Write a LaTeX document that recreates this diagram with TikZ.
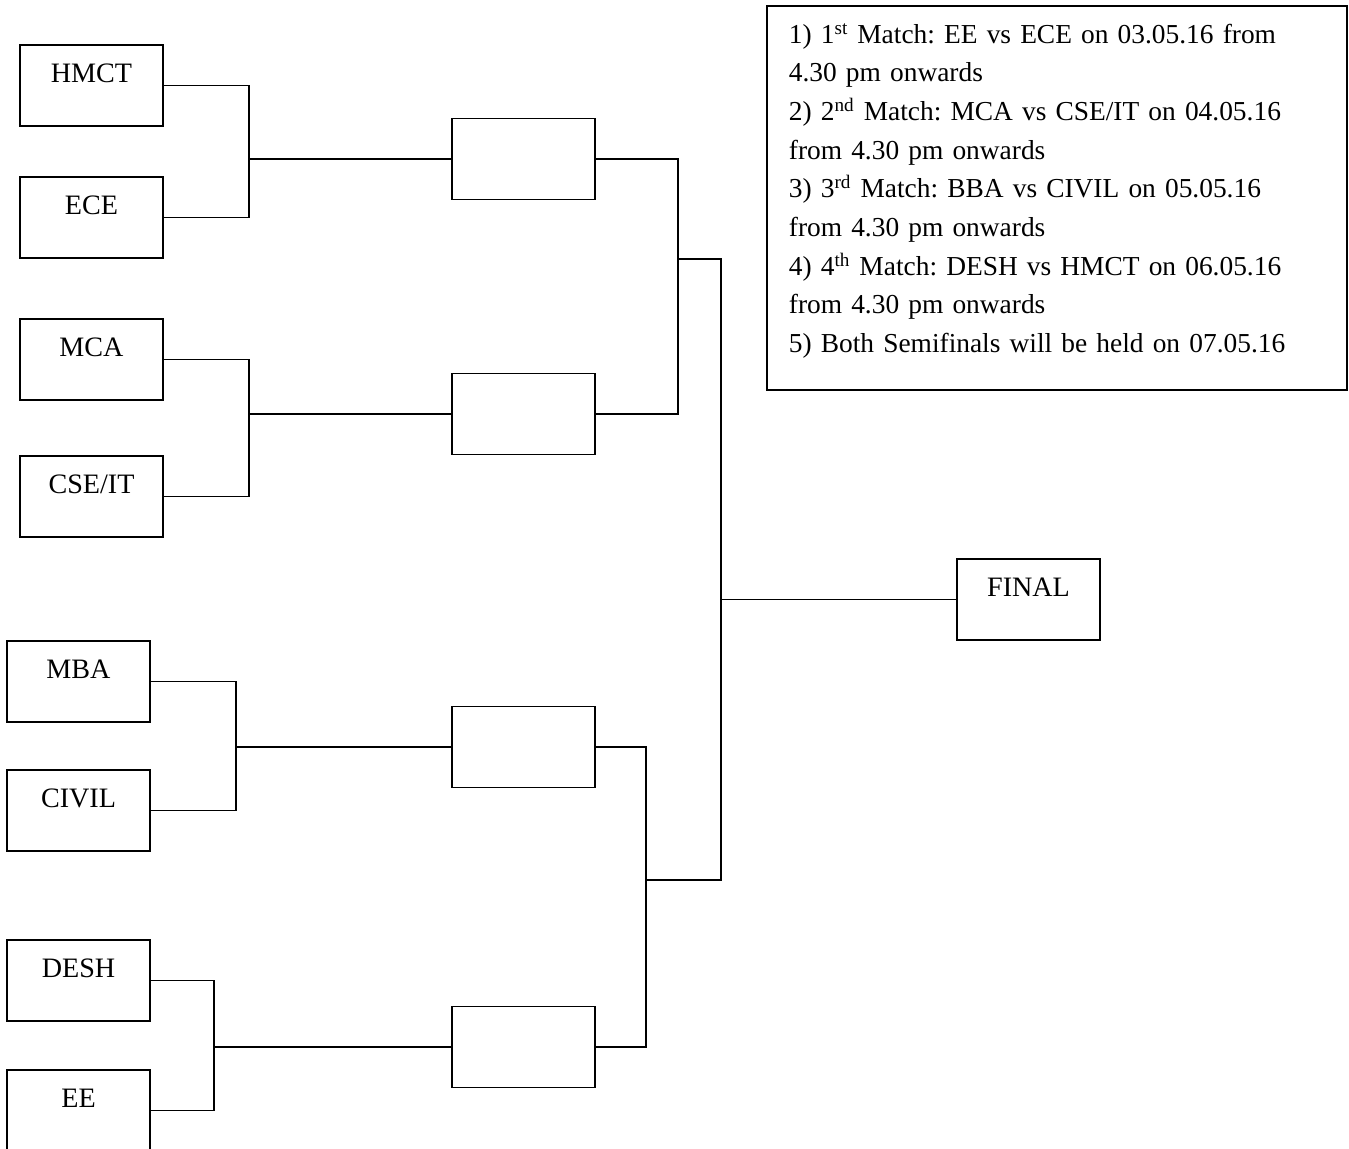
\documentclass[tikz,border=0pt]{standalone}
\usepackage{fontspec}
\setmainfont{Liberation Serif}
\usetikzlibrary{positioning}

\begin{document}
\begin{tikzpicture}[
  x=0.02cm, y=-0.02cm,
  line width=1pt,
  slot/.style={
    rectangle, draw=black, line width=1pt,
    minimum width=2.86cm, minimum height=1.62cm,
    inner sep=0pt
  },
  team/.style={
    slot,
    font=\fontsize{16}{19}\selectfont,
    text height=11pt, text depth=14.4pt
  },
  notebox/.style={
    rectangle, draw=black, line width=1pt,
    anchor=north west,
    text width=10.72cm,
    inner xsep=0.44cm, inner ysep=0.3cm,
    minimum height=7.68cm,
    align=left,
    font=\fontsize{15.6}{22}\selectfont\frenchspacing
  },
  link/.style={draw=black, line width=1pt}
]

% Fix page to the reference size
\useasboundingbox (0,0) rectangle (1349,1149);

% First round (teams)
\node[team] (hmct)  at (91.5, 85.5)  {HMCT};
\node[team] (ece)   at (91.5, 217.5) {ECE};
\node[team] (mca)   at (91.5, 359.5) {MCA};
\node[team] (cseit) at (91.5, 496.5) {CSE/IT};
\node[team] (mba)   at (78.5, 681.5) {MBA};
\node[team] (civil) at (78.5, 810.5) {CIVIL};
\node[team] (desh)  at (78.5, 980.5) {DESH};
\node[team] (ee)    at (78.5, 1110.5) {EE};

% Winners of each match (empty slots)
\node[slot] (qf1) at (523.5, 159) {};
\node[slot] (qf2) at (523.5, 414) {};
\node[slot] (qf3) at (523.5, 747) {};
\node[slot] (qf4) at (523.5, 1047) {};

% Final
\node[team] (final) at (1028.5, 599.5) {FINAL};

% Fixture notes
\node[notebox] (notes) at (766, 5) {%
  1) 1\textsuperscript{st} Match: EE vs ECE on 03.05.16 from\\
  4.30 pm onwards\\
  2) 2\textsuperscript{nd} Match: MCA vs CSE/IT on 04.05.16\\
  from 4.30 pm onwards\\
  3) 3\textsuperscript{rd} Match: BBA vs CIVIL on 05.05.16\\
  from 4.30 pm onwards\\
  4) 4\textsuperscript{th} Match: DESH vs HMCT on 06.05.16\\
  from 4.30 pm onwards\\
  5) Both Semifinals will be held on 07.05.16\par
  \vspace{8pt}\nointerlineskip\hbox{}
};

% Junction points of the bracket
\coordinate (j1) at (249, 159);
\coordinate (j2) at (249, 414);
\coordinate (j3) at (236, 747);
\coordinate (j4) at (214, 1047);
\coordinate (s1) at (678, 259);
\coordinate (s2) at (646, 880);
\coordinate (k)  at (721, 599.5);

% Matches -> winner slots
\draw[link] (hmct.east) -| (j1) |- (ece.east);
\draw[link] (j1) -- (qf1.west);
\draw[link] (mca.east) -| (j2) |- (cseit.east);
\draw[link] (j2) -- (qf2.west);
\draw[link] (mba.east) -| (j3) |- (civil.east);
\draw[link] (j3) -- (qf3.west);
\draw[link] (desh.east) -| (j4) |- (ee.east);
\draw[link] (j4) -- (qf4.west);

% Semifinals -> final
\draw[link] (qf1.east) -| (s1) |- (qf2.east);
\draw[link] (qf3.east) -| (s2) |- (qf4.east);
\draw[link] (s1) -| (k) |- (s2);
\draw[link] (k) -- (final.west);

\end{tikzpicture}
\end{document}
